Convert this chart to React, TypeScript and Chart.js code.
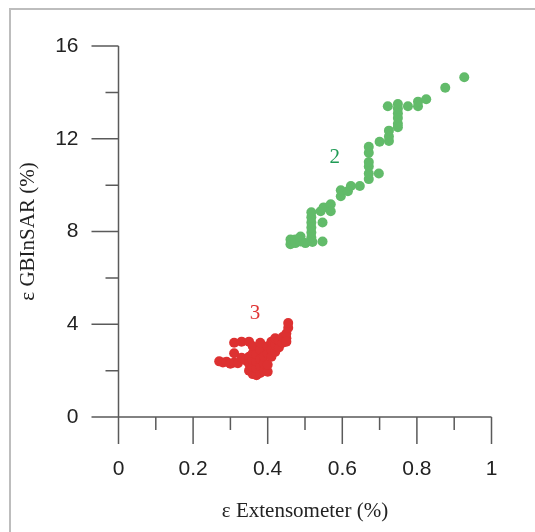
import React, { useEffect, useRef } from "react";
import { Chart, registerables } from "chart.js";

Chart.register(...registerables);

// ---- Data ----
const series2X = [
  0.461, 0.461, 0.474, 0.474, 0.488, 0.488, 0.501, 0.52, 0.547, 0.517, 0.517, 0.517, 0.517, 0.517, 0.517,
  0.547, 0.542, 0.55, 0.569, 0.569, 0.596, 0.596, 0.615, 0.623, 0.647, 0.671, 0.671, 0.671, 0.671, 0.698,
  0.671, 0.671, 0.7, 0.725, 0.725, 0.725, 0.722, 0.749, 0.749, 0.749, 0.749, 0.749, 0.749, 0.776, 0.803,
  0.803, 0.825, 0.876, 0.927,
];
const series2Y = [
  7.65, 7.45, 7.65, 7.5, 7.57, 7.78, 7.5, 7.55, 7.57, 7.74, 7.96, 8.17, 8.39, 8.61, 8.83,
  8.39, 8.87, 9.04, 9.17, 8.87, 9.52, 9.78, 9.74, 9.96, 9.96, 10.26, 10.5, 10.8, 11.0, 10.5,
  11.4, 11.65, 11.87, 11.9, 12.1, 12.35, 13.4, 12.5, 12.65, 12.9, 13.1, 13.3, 13.5, 13.4, 13.4,
  13.6, 13.7, 14.2, 14.65,
];
const series3X = [
  0.27, 0.28, 0.29, 0.3, 0.31, 0.32, 0.31, 0.31, 0.33, 0.35, 0.33, 0.34, 0.35, 0.35, 0.35, 0.36, 0.36,
  0.36, 0.36, 0.36, 0.37, 0.37, 0.37, 0.37, 0.38, 0.38, 0.38, 0.38, 0.38, 0.39, 0.39, 0.39, 0.4, 0.4,
  0.4, 0.4, 0.41, 0.41, 0.41, 0.42, 0.42, 0.42, 0.43, 0.43, 0.44, 0.44, 0.45, 0.45, 0.455, 0.455, 0.45,
];
const series3Y = [
  2.4, 2.35, 2.38, 2.3, 2.35, 2.32, 2.75, 3.2, 3.25, 3.25, 2.55, 2.45, 2.6, 2.3, 2.0, 1.85, 2.15,
  2.45, 2.75, 3.05, 1.8, 2.1, 2.4, 2.7, 1.9, 2.2, 2.5, 2.9, 3.2, 2.0, 2.3, 2.6, 1.95, 2.25,
  2.75, 3.05, 2.6, 2.9, 3.25, 2.8, 3.1, 3.4, 3.0, 3.3, 3.2, 3.45, 3.4, 3.6, 3.85, 4.05, 3.25,
];
const seriesLabels = ["2", "3"];
const labelX = [0.58, 0.366];
const labelY = [11.2, 4.45];

const xTitle = "ε Extensometer (%)";
const yTitle = "ε GBInSAR (%)";

const GREEN = "#62bb6a";
const RED = "#dd3131";
const LABEL_COLORS = ["#1f9b55", "#e03535"];
const AXIS_COLOR = "#5a5a5a";
const TEXT_COLOR = "#222222";

const axesPlugin = {
  id: "customAxes",
  beforeDatasetsDraw(chart: any) {
    const { ctx, chartArea } = chart;
    const x = chart.scales.x;
    const y = chart.scales.y;
    const major = 27;
    const minor = 13;
    ctx.save();
    ctx.strokeStyle = AXIS_COLOR;
    ctx.lineWidth = 1.5;
    ctx.beginPath();
    ctx.moveTo(chartArea.left, chartArea.bottom);
    ctx.lineTo(chartArea.right, chartArea.bottom);
    ctx.moveTo(chartArea.left, chartArea.top);
    ctx.lineTo(chartArea.left, chartArea.bottom);
    const xt = x.ticks.map((t: any) => t.value);
    xt.forEach((v: number, i: number) => {
      const px = x.getPixelForValue(v);
      ctx.moveTo(px, chartArea.bottom);
      ctx.lineTo(px, chartArea.bottom + major);
      if (i < xt.length - 1) {
        const m = x.getPixelForValue((v + xt[i + 1]) / 2);
        ctx.moveTo(m, chartArea.bottom);
        ctx.lineTo(m, chartArea.bottom + minor);
      }
    });
    const yt = y.ticks.map((t: any) => t.value);
    yt.forEach((v: number, i: number) => {
      const py = y.getPixelForValue(v);
      ctx.moveTo(chartArea.left, py);
      ctx.lineTo(chartArea.left - major, py);
      if (i < yt.length - 1) {
        const m = y.getPixelForValue((v + yt[i + 1]) / 2);
        ctx.moveTo(chartArea.left, m);
        ctx.lineTo(chartArea.left - minor, m);
      }
    });
    ctx.stroke();
    ctx.restore();
  },
  afterDatasetsDraw(chart: any) {
    const { ctx } = chart;
    const x = chart.scales.x;
    const y = chart.scales.y;
    ctx.save();
    ctx.font = '21px "Liberation Serif"';
    ctx.textAlign = "center";
    ctx.textBaseline = "middle";
    seriesLabels.forEach((t, i) => {
      ctx.fillStyle = LABEL_COLORS[i];
      ctx.fillText(t, x.getPixelForValue(labelX[i]), y.getPixelForValue(labelY[i]));
    });
    ctx.restore();
  },
};

export default function App() {
  const ref = useRef<HTMLCanvasElement>(null);
  useEffect(() => {
    if (!ref.current) return;
    const toPts = (xs: number[], ys: number[]) => xs.map((v, i) => ({ x: v, y: ys[i] }));
    const chart = new Chart(ref.current, {
      type: "scatter",
      data: {
        datasets: [
          {
            label: "2",
            data: toPts(series2X, series2Y),
            backgroundColor: GREEN,
            borderWidth: 0,
            pointRadius: 5,
          },
          {
            label: "3",
            data: toPts(series3X, series3Y),
            backgroundColor: RED,
            borderWidth: 0,
            pointRadius: 5,
          },
        ],
      },
      options: {
        animation: false,
        responsive: false,
        devicePixelRatio: 1,
        layout: { padding: { left: 0, top: 46, right: 43.5, bottom: 0 } },
        plugins: { legend: { display: false }, tooltip: { enabled: false } },
        scales: {
          x: {
            type: "linear",
            min: 0,
            max: 1,
            ticks: {
              stepSize: 0.2,
              padding: 13,
              color: TEXT_COLOR,
              font: { family: '"Liberation Sans"', size: 21 },
              maxRotation: 0,
              callback: (v: any) => String(Math.round(Number(v) * 10) / 10),
            },
            grid: {
              display: true,
              drawOnChartArea: false,
              drawTicks: true,
              tickLength: 27,
              color: "rgba(0,0,0,0)",
              tickColor: "rgba(0,0,0,0)",
            },
            border: { display: false },
            title: {
              display: true,
              text: xTitle,
              color: TEXT_COLOR,
              font: { family: '"Liberation Serif"', size: 21 },
              padding: { top: 0, bottom: 7.5 },
            },
            afterFit: (s: any) => {
              s.height = 115;
            },
          },
          y: {
            type: "linear",
            min: 0,
            max: 16,
            ticks: {
              stepSize: 4,
              padding: 13,
              color: TEXT_COLOR,
              font: { family: '"Liberation Sans"', size: 21 },
            },
            grid: {
              display: true,
              drawOnChartArea: false,
              drawTicks: true,
              tickLength: 27,
              color: "rgba(0,0,0,0)",
              tickColor: "rgba(0,0,0,0)",
            },
            border: { display: false },
            title: {
              display: true,
              text: yTitle,
              color: TEXT_COLOR,
              font: { family: '"Liberation Serif"', size: 21 },
              padding: { top: 15.5, bottom: 0 },
            },
            afterFit: (s: any) => {
              s.width = 118.5;
            },
          },
        },
      },
      plugins: [axesPlugin],
    });
    return () => chart.destroy();
  }, []);

  return (
    <div style={{ position: "absolute", left: 0, top: 0, width: 535, height: 532, background: "#fff" }}>
      <div
        style={{
          position: "absolute",
          left: 9,
          top: 8,
          right: 0,
          bottom: 0,
          borderTop: "2px solid #bdbdbd",
          borderLeft: "2px solid #bdbdbd",
        }}
      />
      <canvas ref={ref} width={535} height={532} style={{ position: "absolute", left: 0, top: 0 }} />
    </div>
  );
}
